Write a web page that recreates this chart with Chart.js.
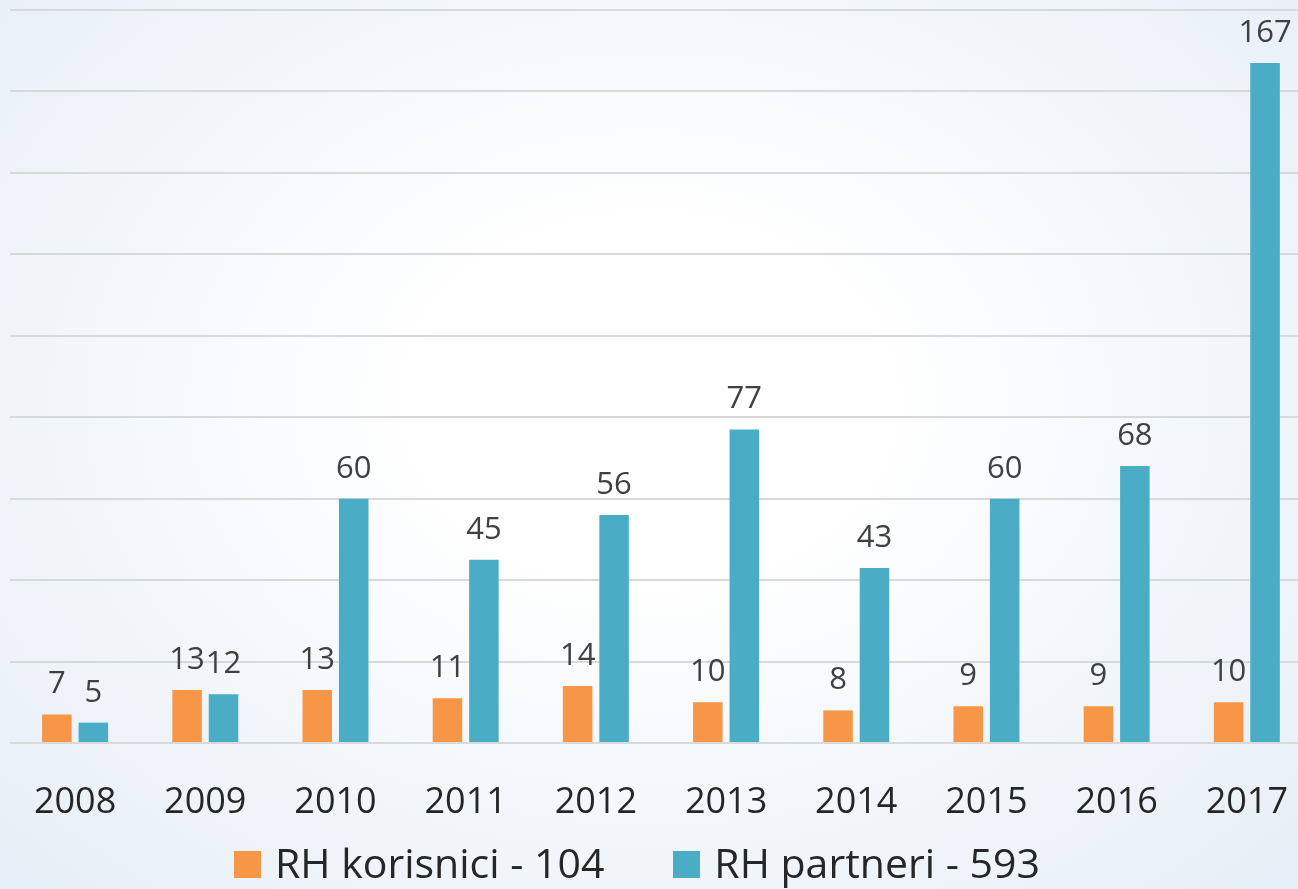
<!DOCTYPE html>
<html>
<head>
    <title>RH korisnici / RH partneri</title>
    <script src="https://cdn.jsdelivr.net/npm/chart.js"></script>
    <style>
        html, body {
            margin: 0;
            padding: 0;
            width: 1298px;
            height: 889px;
            overflow: hidden;
            font-family: "Open Sans", sans-serif;
            background: radial-gradient(ellipse at 50% 45%, #ffffff 25%, #f3f7fb 60%, #e6eef7 100%);
        }

        #wrap {
            position: absolute;
            left: 0;
            top: 0;
            width: 1318px; /* plot runs a bit past the right edge */
            height: 889px;
        }

        .legend {
            position: absolute;
            left: 234px;
            top: 842px;
            font-size: 41px;
            line-height: 41px;
            color: #262626;
            white-space: nowrap;
        }

        .legend span.item {
            display: inline-block;
            margin-right: 69px;
        }

        .legend i {
            display: inline-block;
            width: 27px;
            height: 27px;
            margin-right: 14px;
            vertical-align: baseline;
        }
    </style>
</head>
<body>
    <div id="wrap"><canvas id="chart"></canvas></div>
    <div class="legend" id="legend"></div>

    <script>
        const years = ['2008', '2009', '2010', '2011', '2012', '2013', '2014', '2015', '2016', '2017'];
        const korisnici = [7, 13, 13, 11, 14, 10, 8, 9, 9, 10];
        const partneri = [5, 12, 60, 45, 56, 77, 43, 60, 68, 167];
        const seriesNames = ['RH korisnici - 104', 'RH partneri - 593'];
        const seriesColors = ['#F79646', '#4BACC6'];

        // values written above each bar
        const valueLabels = {
            id: 'valueLabels',
            afterDatasetsDraw(chart) {
                const ctx = chart.ctx;
                ctx.save();
                ctx.font = '31px "Open Sans"';
                ctx.fillStyle = '#404040';
                ctx.textAlign = 'center';
                ctx.textBaseline = 'alphabetic';
                chart.data.datasets.forEach((ds, i) => {
                    chart.getDatasetMeta(i).data.forEach((bar, j) => {
                        ctx.fillText(ds.data[j], bar.x, bar.y - 21);
                    });
                });
                ctx.restore();
            }
        };

        new Chart(document.getElementById('chart'), {
            type: 'bar',
            data: {
                labels: years,
                datasets: [
                    { label: seriesNames[0], data: korisnici, backgroundColor: seriesColors[0] },
                    { label: seriesNames[1], data: partneri, backgroundColor: seriesColors[1] }
                ]
            },
            options: {
                responsive: true,
                maintainAspectRatio: false,
                animation: false,
                layout: { padding: { top: 10, left: 10, right: 0, bottom: 0 } },
                datasets: {
                    bar: { categoryPercentage: 0.56, barPercentage: 0.81 }
                },
                plugins: {
                    legend: { display: false },
                    tooltip: { enabled: false }
                },
                scales: {
                    x: {
                        grid: { display: false },
                        border: { display: false },
                        ticks: {
                            color: '#262626',
                            font: { family: 'Open Sans', size: 36 },
                            padding: 30
                        },
                        afterFit: s => { s.height = 146; }
                    },
                    y: {
                        min: 0,
                        max: 180,
                        ticks: { stepSize: 20, display: false },
                        grid: { color: '#d9d9d9', lineWidth: 2, drawTicks: false },
                        border: { display: false },
                        afterFit: s => { s.width = 0; }
                    }
                }
            },
            plugins: [valueLabels]
        });

        // legend below the axis
        document.getElementById('legend').innerHTML = seriesNames.map((name, i) =>
            '<span class="item"><i style="background:' + seriesColors[i] + '"></i>' + name + '</span>'
        ).join('');
    </script>
</body>
</html>
